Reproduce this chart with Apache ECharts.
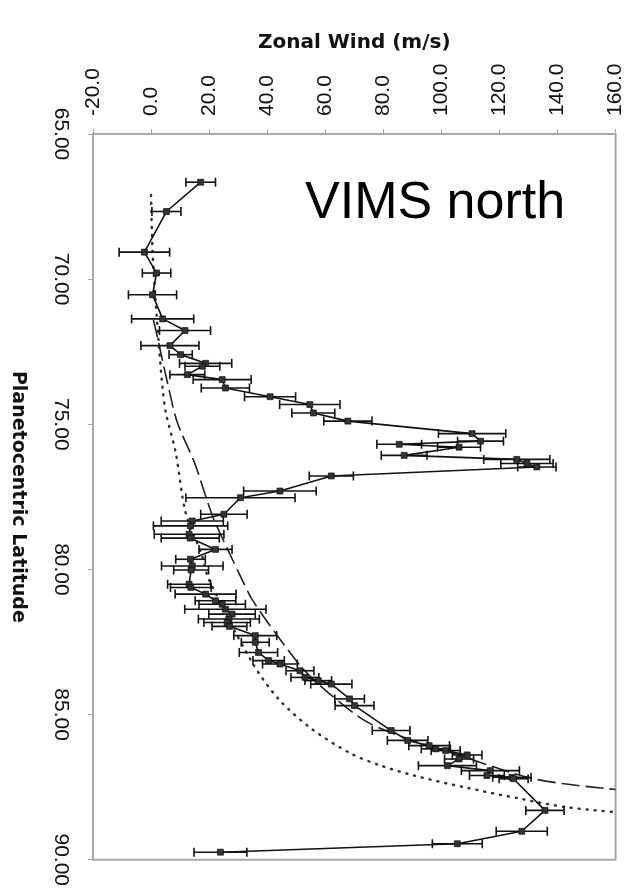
<!DOCTYPE html>
<html><head><meta charset="utf-8">
<script src="https://cdn.jsdelivr.net/npm/echarts@6/dist/echarts.min.js"></script>
<style>html,body{margin:0;padding:0;background:#fff}#c{width:626px;height:889px}</style>
</head><body><div id="c"></div>
<script>
// Observed zonal wind profile (VIMS north)
const latitude = [66.66,67.67,69.07,69.79,70.54,71.37,71.77,72.29,72.60,72.90,73.00,73.29,73.46,73.75,74.05,74.32,74.61,74.89,75.32,75.58,75.69,75.79,76.07,76.21,76.35,76.47,76.78,77.30,77.53,78.10,78.33,78.50,78.79,78.92,79.31,79.65,79.88,80.02,80.51,80.62,80.85,81.08,81.20,81.37,81.54,81.71,81.83,81.96,82.28,82.51,82.86,83.14,83.26,83.49,83.72,83.83,83.95,84.46,84.69,85.55,85.89,86.07,86.18,86.24,86.39,86.53,86.76,86.93,87.10,87.16,87.21,88.30,89.02,89.45,89.74];
const wind = [17.1,5.3,-2.3,1.9,0.5,4.0,11.7,6.5,10.2,18.8,17.7,12.5,24.5,25.6,41.0,54.7,55.9,67.8,110.6,113.5,85.5,106.1,87.2,126.0,129.5,132.9,62.1,44.4,30.8,25.1,14.2,13.6,13.1,13.5,22.2,13.6,14.2,13.8,13.1,13.7,18.8,22.2,24.5,25.6,27.9,26.8,26.2,27.0,35.9,35.9,37.0,40.5,44.4,51.3,53.0,57.6,62.1,68.4,70.1,82.7,88.4,95.8,98.1,101.5,108.9,106.1,102.1,116.9,115.7,124.3,124.9,135.7,127.7,105.5,23.9];
const windErr = [5.1,5.0,8.7,4.9,8.3,10.7,8.8,10.0,4.0,9.0,6.0,6.0,10.0,8.3,8.8,10.4,7.4,8.3,11.6,7.9,7.7,7.4,7.9,11.4,9.0,6.6,7.6,12.5,18.8,8.0,10.7,12.8,12.0,10.0,5.7,5.1,10.6,6.0,7.4,7.0,10.5,7.0,8.0,14.0,8.0,10.5,8.0,6.0,7.4,4.8,6.6,5.4,6.0,4.8,4.8,4.6,7.1,5.1,6.7,6.5,7.0,7.0,5.0,5.0,5.1,5.0,10.0,10.0,6.0,6.6,5.0,6.6,8.8,8.6,9.1];
// Model curve 1 (long dashes)
const dashLat = [71.40,72.00,73.50,74.95,76.33,77.47,78.27,80.34,81.03,82.17,83.43,84.24,85.27,85.95,86.30,87.21,87.58];
const dashWind = [0.8,2.2,5.5,9.1,15.0,18.8,21.6,31.3,34.8,42.7,52.4,61.0,74.7,91.8,103.2,131.7,160.0];
// Model curve 2 (dotted)
const dotLat = [67.10,69.00,70.80,72.40,73.80,74.60,75.98,78.04,79.53,80.34,83.20,84.46,85.49,86.35,86.76,87.10,87.50,87.90,88.19,88.36];
const dotWind = [0.0,0.5,1.6,2.8,4.0,5.1,8.5,11.9,17.6,19.9,34.8,43.9,55.3,69.0,79.2,90.6,107.8,127.2,143.1,160.0];

const obs = latitude.map((la, i) => [wind[i], la]);
const errData = latitude.map((la, i) => [wind[i], la, windErr[i]]);
const dashData = dashLat.map((la, i) => [dashWind[i], la]);
const dotData = dotLat.map((la, i) => [dotWind[i], la]);

const chart = echarts.init(document.getElementById('c'));
const axisGray = '#a8a8a8';
chart.setOption({
  animation: false,
  backgroundColor: '#fff',
  grid: {left: 90, top: 134, width: 526, height: 727, show: true, borderColor: axisGray, borderWidth: 2, backgroundColor: 'transparent'},
  xAxis: {
    type: 'value', position: 'top', min: -20, max: 160, interval: 20,
    name: 'Zonal Wind (m/s)', nameLocation: 'middle', nameGap: 81,
    nameTextStyle: {fontFamily: 'DejaVu Sans', fontWeight: 'bold', fontSize: 20, color: '#111'},
    axisLine: {show: true, onZero: false, lineStyle: {color: axisGray, width: 2}},
    axisTick: {show: true, length: 5, lineStyle: {color: axisGray}},
    splitLine: {show: false},
    axisLabel: {rotate: -90, margin: 18, fontFamily: 'Liberation Sans', fontSize: 21, color: '#111', formatter: v => v.toFixed(1)}
  },
  yAxis: {
    type: 'value', inverse: true, min: 65, max: 90, interval: 5,
    name: 'Planetocentric Latitude', nameLocation: 'middle', nameGap: 66, nameRotate: -90,
    nameTextStyle: {fontFamily: 'DejaVu Sans', fontWeight: 'bold', fontSize: 19, color: '#111'},
    axisLine: {show: true, onZero: false, lineStyle: {color: axisGray, width: 2}},
    axisTick: {show: true, length: 5, lineStyle: {color: axisGray}},
    splitLine: {show: false},
    axisLabel: {rotate: -90, margin: 22, fontFamily: 'Liberation Sans', fontSize: 21, color: '#111', formatter: v => v.toFixed(2)}
  },
  graphic: [{type: 'text', left: 305, top: 178, style: {text: 'VIMS north', font: '52px "Liberation Sans"', fill: '#000'}}],
  series: [
    {type: 'line', data: dotData, smooth: 0.3, symbol: 'none', z: 2,
     lineStyle: {color: '#333', width: 2.5, type: [1, 7], cap: 'round'}},
    {type: 'line', data: dashData, smooth: 0.3, symbol: 'none', z: 2,
     lineStyle: {color: '#222', width: 1.6, type: [18, 6]}},
    {type: 'custom', data: errData, z: 3,
     renderItem: function (params, api) {
       const v = api.value(0), la = api.value(1), e = api.value(2);
       const a = api.coord([v - e, la]), b = api.coord([v + e, la]);
       const st = {stroke: '#111', lineWidth: 1.6};
       return {type: 'group', children: [
         {type: 'line', shape: {x1: a[0], y1: a[1], x2: b[0], y2: b[1]}, style: st},
         {type: 'line', shape: {x1: a[0], y1: a[1] - 4.5, x2: a[0], y2: a[1] + 4.5}, style: st},
         {type: 'line', shape: {x1: b[0], y1: b[1] - 4.5, x2: b[0], y2: b[1] + 4.5}, style: st}
       ]};
     }},
    {type: 'line', data: obs, symbol: 'rect', symbolSize: 6, z: 4,
     lineStyle: {color: '#111', width: 1.6},
     itemStyle: {color: '#333', borderColor: '#000', borderWidth: 0.6}}
  ]
});
</script></body></html>
